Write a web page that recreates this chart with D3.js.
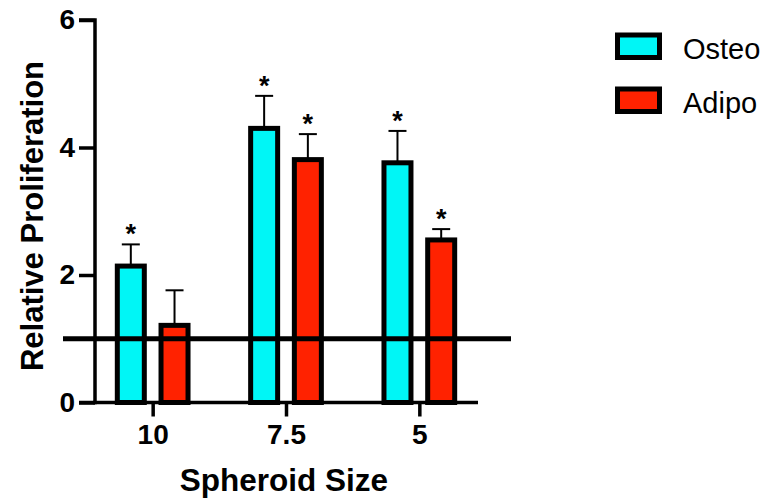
<!DOCTYPE html>
<html>
<head>
<meta charset="utf-8">
<script src="https://cdn.jsdelivr.net/npm/d3@7"></script>
<style>
  body { margin: 0; background: #fff; }
  svg { display: block; font-family: "Liberation Sans", Arial, Helvetica, sans-serif; }
</style>
</head>
<body>
<svg id="chart" width="765" height="502"></svg>
<script>
// Spheroid sizes along the x axis
const categories = ["10", "7.5", "5"];
// Relative proliferation means for each lineage
const seriesNames = ["Osteo", "Adipo"];
const osteoValues = [2.14, 4.30, 3.76];
const adipoValues = [1.21, 3.81, 2.55];
// Upper error limits (mean + SD)
const osteoErrTop = [2.48, 4.81, 4.26];
const adipoErrTop = [1.76, 4.21, 2.72];
// Significance marks
const osteoSig = [true, true, true];
const adipoSig = [false, true, true];
const yTicks = [0, 2, 4, 6];
const baselineValue = 1;

const colors = { Osteo: "#00f6f6", Adipo: "#ff2200" };

const svg = d3.select("#chart");

const y = d3.scaleLinear().domain([0, 6]).range([402.5, 20]);
const x0 = d3.scaleBand().domain(categories).range([86, 486]).paddingInner(0).paddingOuter(0);
const x1 = d3.scaleBand().domain(seriesNames).range([0, x0.bandwidth()]).paddingInner(0.85).paddingOuter(0.95);

const rows = categories.map((c, i) => ({
  cat: c,
  bars: [
    { name: "Osteo", value: osteoValues[i], err: osteoErrTop[i], sig: osteoSig[i] },
    { name: "Adipo", value: adipoValues[i], err: adipoErrTop[i], sig: adipoSig[i] }
  ]
}));

const barW = 27;
const g = svg.append("g");

const groups = g.selectAll("g.grp").data(rows).enter().append("g")
  .attr("transform", d => `translate(${x0(d.cat)},0)`);

const cx = n => x1(n) + x1.bandwidth() / 2;

// error bars (drawn behind the bar outline)
groups.selectAll("g.err").data(d => d.bars).enter().append("g").each(function(d) {
  const s = d3.select(this);
  const c = cx(d.name);
  s.append("line").attr("x1", c).attr("x2", c).attr("y1", y(d.value)).attr("y2", y(d.err))
    .attr("stroke", "#000").attr("stroke-width", 2);
  s.append("line").attr("x1", c - 9).attr("x2", c + 9).attr("y1", y(d.err)).attr("y2", y(d.err))
    .attr("stroke", "#000").attr("stroke-width", 2);
});

// bars
groups.selectAll("rect").data(d => d.bars).enter().append("rect")
  .attr("x", d => cx(d.name) - barW / 2)
  .attr("width", barW)
  .attr("y", d => y(d.value))
  .attr("height", d => y(0) - y(d.value))
  .attr("fill", d => colors[d.name])
  .attr("stroke", "#000")
  .attr("stroke-width", 5);

// significance asterisks
groups.selectAll("text.sig").data(d => d.bars.filter(b => b.sig)).enter().append("text")
  .attr("x", d => cx(d.name))
  .attr("y", d => y(d.err) - 1)
  .attr("text-anchor", "middle")
  .attr("font-size", 27)
  .attr("font-weight", "bold")
  .text("*");

// baseline at 1
g.append("line")
  .attr("x1", 63).attr("x2", 511)
  .attr("y1", y(baselineValue)).attr("y2", y(baselineValue))
  .attr("stroke", "#000").attr("stroke-width", 5);

// y axis
const yAxis = d3.axisLeft(y).tickValues(yTicks).tickSize(16).tickPadding(4).tickFormat(d3.format("d"));
const ya = svg.append("g").attr("transform", "translate(95,0)").call(yAxis);
ya.select(".domain").attr("stroke-width", 3.5).attr("d", "M-16,20H0V402.5H-16");
ya.selectAll(".tick line").attr("stroke-width", 3.5);
ya.selectAll(".tick text").attr("font-size", 28).attr("font-weight", "bold").attr("fill", "#000")
  .attr("font-family", "Liberation Sans, Arial, sans-serif");

// x axis
const xTickScale = d3.scalePoint().domain(categories).range([x0("10") + x0.bandwidth() / 2, x0("5") + x0.bandwidth() / 2]);
const xAxis = d3.axisBottom(xTickScale).tickSize(14).tickPadding(8);
const xa = svg.append("g").attr("transform", "translate(0,402.5)").call(xAxis);
xa.select(".domain").attr("stroke-width", 3.5).attr("d", "M93,0H478");
xa.selectAll(".tick line").attr("stroke-width", 3.5).attr("y1", 0);
xa.selectAll(".tick text").attr("font-size", 28).attr("font-weight", "bold").attr("fill", "#000")
  .attr("font-family", "Liberation Sans, Arial, sans-serif");

// axis titles
svg.append("text")
  .attr("x", 284).attr("y", 491)
  .attr("text-anchor", "middle")
  .attr("font-size", 31.5).attr("font-weight", "bold")
  .text("Spheroid Size");

svg.append("text")
  .attr("transform", "translate(43,216) rotate(-90)")
  .attr("text-anchor", "middle")
  .attr("font-size", 31).attr("font-weight", "bold")
  .text("Relative Proliferation");

// legend
const legend = svg.append("g").attr("transform", "translate(617.5,35)");
const li = legend.selectAll("g").data(seriesNames).enter().append("g")
  .attr("transform", (d, i) => `translate(0,${i * 54})`);
li.append("rect").attr("width", 42).attr("height", 22.5)
  .attr("fill", d => colors[d]).attr("stroke", "#000").attr("stroke-width", 5);
li.append("text").attr("x", 65.5).attr("y", 13.5).attr("dy", "0.36em")
  .attr("font-size", 29).text(d => d);
</script>
</body>
</html>
